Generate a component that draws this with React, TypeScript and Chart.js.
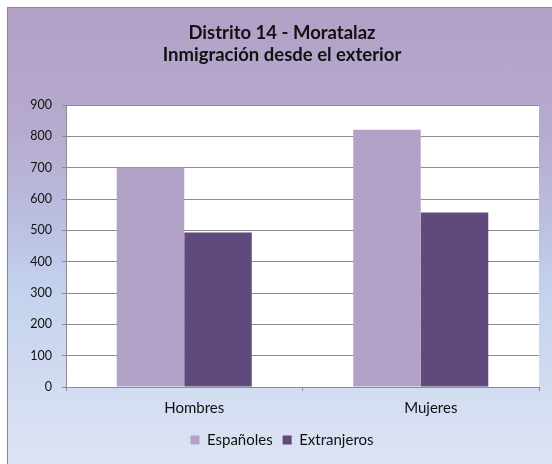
import React, { useEffect, useRef } from "react";
import { Chart, registerables } from "chart.js";

Chart.register(...registerables);

const titleLines = ["Distrito 14 - Moratalaz", "Inmigración desde el exterior"];
const categories = ["Hombres", "Mujeres"];
const seriesNames = ["Españoles", "Extranjeros"];
const espanoles = [700, 821];
const extranjeros = [493, 557];
const yMin = 0;
const yMax = 900;
const yStep = 100;

const FONT = "Lato, 'Open Sans', sans-serif";
const GRID = "#8c8c8c";

const plotBg = {
  id: "plotBg",
  beforeDraw(chart: any) {
    const { ctx, chartArea } = chart;
    ctx.save();
    ctx.fillStyle = "#ffffff";
    ctx.fillRect(chartArea.left, chartArea.top, chartArea.width, chartArea.height);
    ctx.restore();
  },
};

export default function App() {
  const ref = useRef<HTMLCanvasElement | null>(null);

  useEffect(() => {
    if (!ref.current) return;
    const chart = new Chart(ref.current, {
      type: "bar",
      data: {
        labels: categories,
        datasets: [
          {
            label: seriesNames[0],
            data: espanoles,
            backgroundColor: "#B3A2C7",
            borderWidth: 0,
            categoryPercentage: 0.571,
            barPercentage: 1,
          },
          {
            label: seriesNames[1],
            data: extranjeros,
            backgroundColor: "#604A7B",
            borderWidth: 0,
            categoryPercentage: 0.571,
            barPercentage: 1,
          },
        ],
      },
      plugins: [plotBg],
      options: {
        responsive: false,
        animation: false,
        devicePixelRatio: 1,
        layout: { padding: { left: 25, right: 13, top: 0, bottom: 6.5 } },
        plugins: {
          tooltip: { enabled: false },
          title: {
            display: true,
            text: titleLines,
            color: "#111111",
            font: { family: FONT, size: 18.5, weight: "bold", lineHeight: 22 / 18.5 },
            padding: { top: 22.5, bottom: 38.5 },
          },
          legend: {
            position: "bottom",
            labels: {
              boxWidth: 9,
              boxHeight: 9,
              padding: 10,
              color: "#111111",
              font: { family: FONT, size: 15 },
            },
          },
        },
        scales: {
          x: {
            afterFit(scale: any) {
              scale.height = 35.5;
            },
            grid: {
              display: true,
              drawOnChartArea: false,
              drawTicks: true,
              tickLength: 4,
              color: GRID,
              tickColor: GRID,
              offset: true,
            },
            border: { display: true, color: GRID, width: 1 },
            ticks: {
              color: "#111111",
              padding: 8.5,
              labelOffset: 10,
              font: { family: FONT, size: 15 },
            },
          },
          y: {
            min: yMin,
            max: yMax,
            afterFit(scale: any) {
              scale.width = 41;
            },
            grid: {
              display: true,
              drawTicks: true,
              tickLength: 4,
              color: GRID,
              tickColor: GRID,
            },
            border: { display: true, color: GRID, width: 1 },
            ticks: {
              stepSize: yStep,
              color: "#111111",
              padding: 10,
              font: { family: FONT, size: 12.5 },
            },
          },
        },
      },
    });
    return () => chart.destroy();
  }, []);

  return (
    <div
      style={{
        position: "fixed",
        left: 0,
        top: 0,
        width: 552,
        height: 464,
        overflow: "hidden",
        background: "#ffffff",
      }}
    >
      <div
        style={{
          position: "absolute",
          left: 7,
          top: 7,
          width: 560,
          height: 470,
          border: "1px solid #8a8a8a",
          background:
            "linear-gradient(to bottom, #B2A0C7 0%, #B6AACE 25%, #BBBEDF 45%, #C4D2EE 60%, #DFE5F4 100%)",
        }}
      />
      <canvas
        ref={ref}
        width={552}
        height={464}
        style={{ position: "absolute", left: 0, top: 0, width: 552, height: 464 }}
      />
    </div>
  );
}
